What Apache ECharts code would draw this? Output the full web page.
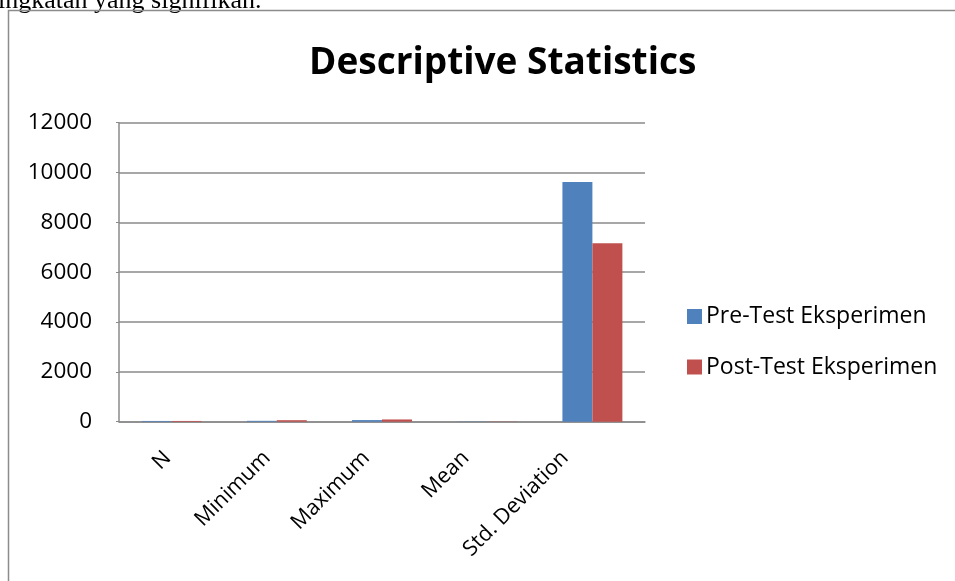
<!DOCTYPE html>
<html>
<head>
<meta charset="utf-8">
<script src="https://cdn.jsdelivr.net/npm/echarts@6/dist/echarts.min.js"></script>
<style>
html,body{margin:0;padding:0;background:#fff;}
#chart{width:955px;height:581px;}
</style>
</head>
<body>
<div id="chart"></div>
<script>
const categories = ['N', 'Minimum', 'Maximum', 'Mean', 'Std. Deviation'];
const preTest = [30, 35, 65, 8, 9620];
const postTest = [30, 60, 90, 8, 7160];
const seriesNames = ['Pre-Test Eksperimen', 'Post-Test Eksperimen'];
const yTicks = { min: 0, max: 12000, interval: 2000 };

const chart = echarts.init(document.getElementById('chart'));
const axisGray = '#8a8a8a';
const labelFont = { fontFamily: 'Open Sans', color: '#000' };
chart.setOption({
  animation: false,
  backgroundColor: '#fff',
  title: {
    text: 'Descriptive Statistics',
    left: 304,
    top: 40,
    textStyle: { fontFamily: 'Open Sans', fontWeight: 'bold', fontSize: 37, color: '#000' }
  },
  graphic: [
    { type: 'text', left: -2, top: -12, style: { text: 'ingkatan yang signifikan.', fontFamily: 'Liberation Serif', fontSize: 26, fill: '#000' } },
    { type: 'rect', shape: { x: 8.5, y: 10.5, width: 960, height: 600 }, style: { fill: 'none', stroke: '#8c8c8c', lineWidth: 1.5 } }
  ],
  legend: {
    orient: 'vertical',
    left: 687,
    top: 305,
    padding: 0,
    itemWidth: 15,
    itemHeight: 15,
    itemGap: 27.5,
    icon: 'rect',
    textStyle: Object.assign({ fontSize: 23, padding: [0,0,0,-1] }, labelFont),
    data: seriesNames
  },
  grid: [
    { left: 119, right: 310, top: 122.7, bottom: 159.3, containLabel: false },
    // label-only grid: Excel places rotated category labels on a slightly narrower pitch
    { left: 117.8, right: 340.2, top: 122.7, bottom: 159.3, containLabel: false }
  ],
  xAxis: [
    {
      type: 'category', gridIndex: 0,
      data: categories,
      axisLine: { lineStyle: { color: axisGray, width: 1.5 } },
      axisTick: { show: false },
      axisLabel: { show: false }
    },
    {
      type: 'category', gridIndex: 1,
      data: categories,
      axisLine: { show: false },
      axisTick: { show: false },
      splitLine: { show: false },
      axisLabel: Object.assign({ rotate: 45, interval: 0, margin: 33, fontSize: 21.5 }, labelFont)
    }
  ],
  yAxis: [
    {
      type: 'value', gridIndex: 0,
      min: yTicks.min, max: yTicks.max, interval: yTicks.interval,
      axisLine: { show: true, lineStyle: { color: axisGray, width: 1.5 } },
      axisTick: { show: true, inside: false, length: 3, lineStyle: { color: axisGray } },
      axisLabel: Object.assign({ margin: 27, fontSize: 22.5, formatter: v => String(v) }, labelFont),
      splitLine: { lineStyle: { color: axisGray, width: 1.5 } }
    },
    {
      type: 'value', gridIndex: 1, show: false,
      min: yTicks.min, max: yTicks.max, interval: yTicks.interval,
      splitLine: { show: false }
    }
  ],
  series: [
    { name: seriesNames[0], type: 'bar', xAxisIndex: 0, yAxisIndex: 0, data: preTest, barGap: '0%', barCategoryGap: '43%', itemStyle: { color: '#4F81BD' } },
    { name: seriesNames[1], type: 'bar', xAxisIndex: 0, yAxisIndex: 0, data: postTest, barGap: '0%', barCategoryGap: '43%', itemStyle: { color: '#C0504D' } }
  ]
});
</script>
</body>
</html>
